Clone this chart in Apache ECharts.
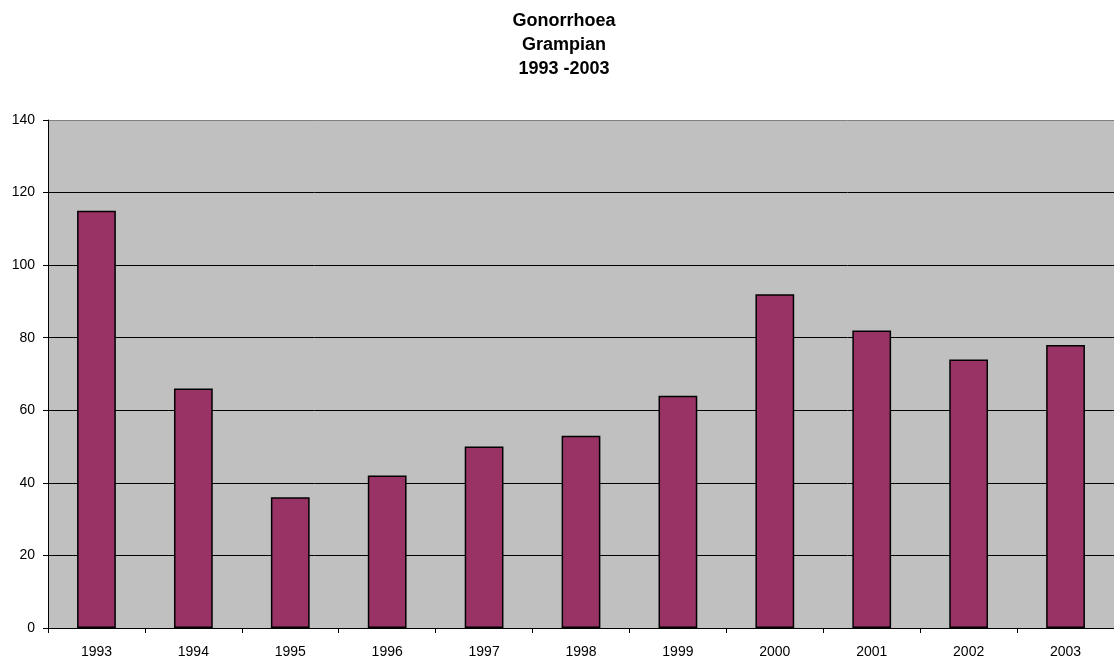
<!DOCTYPE html>
<html>
<head>
<meta charset="utf-8">
<script src="https://cdn.jsdelivr.net/npm/echarts@6/dist/echarts.min.js"></script>
<style>
  html, body { margin: 0; padding: 0; background: #fff; }
  #chart { width: 1114px; height: 660px; }
</style>
</head>
<body>
<div id="chart"></div>
<script>
// years on the x axis
const years = ['1993', '1994', '1995', '1996', '1997', '1998', '1999', '2000', '2001', '2002', '2003'];
// cases per year
const cases = [115, 66, 36, 42, 50, 53, 64, 92, 82, 74, 78];
// y axis range
const yMin = 0;
const yMax = 140;
const yStep = 20;

const chart = echarts.init(document.getElementById('chart'));

const option = {
    animation: false,
    backgroundColor: '#ffffff',
    title: {
        text: 'Gonorrhoea\nGrampian\n1993 -2003',
        left: 559,
        top: 4,
        textAlign: 'center',
        textStyle: {
            fontFamily: 'Liberation Sans, Arial, sans-serif',
            fontWeight: 'bold',
            fontSize: 18,
            lineHeight: 24,
            color: '#000'
        }
    },
    grid: {
        left: 48,
        top: 120,
        width: 1070,
        height: 508,
        show: true,
        backgroundColor: '#c0c0c0',
        borderWidth: 0
    },
    xAxis: {
        type: 'category',
        data: years,
        axisLine: { lineStyle: { color: '#000', width: 1 } },
        axisTick: { show: true, inside: false, length: 5, lineStyle: { color: '#000' } },
        axisLabel: {
            margin: 17,
            fontFamily: 'Liberation Sans, Arial, sans-serif',
            fontSize: 14,
            color: '#000'
        }
    },
    yAxis: {
        type: 'value',
        min: yMin,
        max: yMax,
        interval: yStep,
        axisLine: { show: true, lineStyle: { color: '#000', width: 1 } },
        axisTick: { show: true, length: 5, lineStyle: { color: '#000' } },
        axisLabel: {
            margin: 13,
            fontFamily: 'Liberation Sans, Arial, sans-serif',
            fontSize: 14,
            color: '#000'
        },
        splitLine: {
            show: true,
            lineStyle: {
                color: ['#000', '#000', '#000', '#000', '#000', '#000', '#000', '#808080'],
                width: 1
            }
        }
    },
    series: [
        {
            name: 'Gonorrhoea',
            type: 'bar',
            data: cases,
            barWidth: '40%',
            itemStyle: {
                color: '#993366',
                borderColor: '#000',
                borderWidth: 1.5
            }
        }
    ]
};

chart.setOption(option);
</script>
</body>
</html>
